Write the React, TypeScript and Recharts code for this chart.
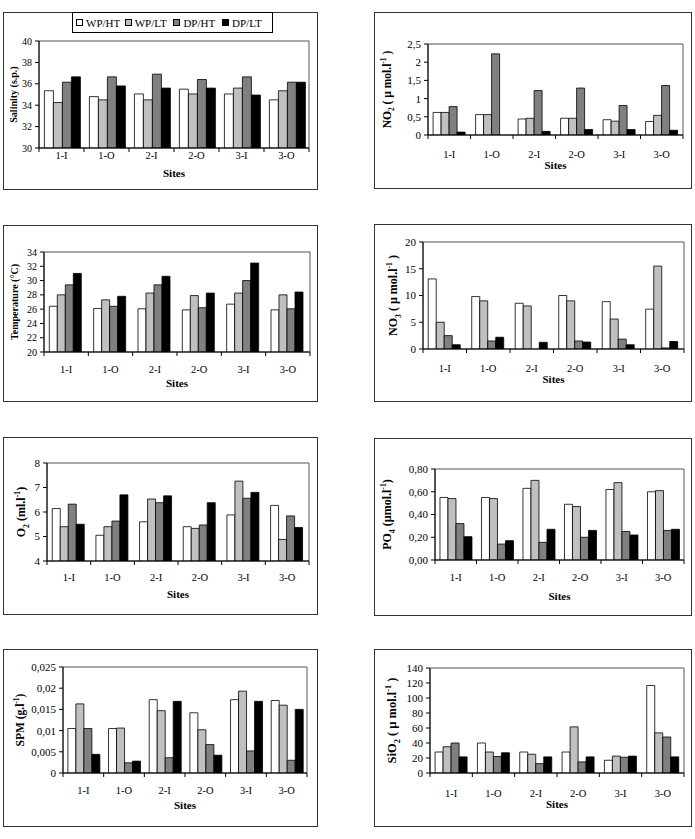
import React from "react";
import { BarChart, Bar, XAxis, YAxis, ReferenceArea } from "recharts";

const SERIF = "'Liberation Serif', 'Times New Roman', serif";

const sites = ["1-I", "1-O", "2-I", "2-O", "3-I", "3-O"];
const seriesNames = ["WP/HT", "WP/LT", "DP/HT", "DP/LT"];
const seriesFill = ["#ffffff", "#c0c0c0", "#808080", "#000000"];

// rows: WP/HT, WP/LT, DP/HT, DP/LT ; columns follow `sites`
const salinity = [
  [35.35, 34.8, 35.05, 35.5, 35.05, 34.5],
  [34.25, 34.5, 34.5, 35.05, 35.6, 35.35],
  [36.15, 36.65, 36.9, 36.4, 36.65, 36.15],
  [36.65, 35.8, 35.6, 35.6, 34.95, 36.15],
];
const nitrite = [
  [0.62, 0.56, 0.44, 0.46, 0.42, 0.37],
  [0.62, 0.56, 0.46, 0.46, 0.38, 0.54],
  [0.78, 2.23, 1.22, 1.29, 0.81, 1.36],
  [0.08, 0, 0.1, 0.15, 0.15, 0.13],
];
const temperature = [
  [26.4, 26.1, 26.05, 25.9, 26.7, 25.9],
  [28.0, 27.3, 28.25, 27.9, 28.25, 28.0],
  [29.4, 26.4, 29.4, 26.2, 30.0, 26.05],
  [31.0, 27.8, 30.6, 28.25, 32.45, 28.4],
];
const nitrate = [
  [13.1, 9.8, 8.55, 10.0, 8.85, 7.45],
  [5.0, 9.0, 8.05, 9.0, 5.6, 15.5],
  [2.5, 1.5, 0, 1.5, 1.85, 0.2],
  [0.8, 2.2, 1.25, 1.3, 0.8, 1.4],
];
const oxygen = [
  [6.14, 5.05, 5.6, 5.4, 5.88, 6.27],
  [5.4, 5.4, 6.53, 5.33, 7.26, 4.88],
  [6.32, 5.63, 6.38, 5.47, 6.56, 5.84],
  [5.5, 6.7, 6.66, 6.38, 6.8, 5.37],
];
const phosphate = [
  [0.55, 0.55, 0.63, 0.49, 0.62, 0.6],
  [0.54, 0.54, 0.7, 0.47, 0.68, 0.61],
  [0.32, 0.14, 0.155, 0.2, 0.25, 0.26],
  [0.205, 0.17, 0.27, 0.26, 0.22, 0.27],
];
const spm = [
  [0.0105, 0.0105, 0.0173, 0.0142, 0.0173, 0.0171],
  [0.0163, 0.0106, 0.0147, 0.0102, 0.0193, 0.016],
  [0.0105, 0.0024, 0.0036, 0.0067, 0.0052, 0.003],
  [0.0044, 0.0028, 0.0169, 0.0042, 0.0169, 0.015],
];
const silicate = [
  [28, 40, 28, 28, 17, 116.7],
  [35, 28, 25, 61.5, 22.5, 53.5],
  [40, 22, 12.5, 14.8, 21, 48],
  [21.5, 27, 21.5, 21.5, 22.5, 21.5],
];

const salinityTicks = [30, 32, 34, 36, 38, 40];
const nitriteTicks = [0, 0.5, 1, 1.5, 2, 2.5];
const temperatureTicks = [20, 22, 24, 26, 28, 30, 32, 34];
const nitrateTicks = [0, 5, 10, 15, 20];
const oxygenTicks = [4, 5, 6, 7, 8];
const phosphateTicks = [0, 0.2, 0.4, 0.6, 0.8];
const spmTicks = [0, 0.005, 0.01, 0.015, 0.02, 0.025];
const silicateTicks = [0, 20, 40, 60, 80, 100, 120, 140];

type Seg = [string, "" | "sub" | "sup"];

interface PanelSpec {
  id: string;
  values: number[][];
  ticks: number[];
  fmt: (v: number) => string;
  title: Seg[];
  frame: [number, number, number, number]; // x, y, w, h
  plot: [number, number, number, number]; // left, top, right, bottom
  titleX: number;
  titleSize: number;
  yTickSize: number;
  tickDy: number;
  sitesDy: number;
}

const comma = (v: number) => String(v).replace(".", ",");
const plain = (v: number) => String(v);

const panels: PanelSpec[] = [
  {
    id: "sal", values: salinity, ticks: salinityTicks, fmt: plain,
    title: [["Salinity (s.p.)", ""]],
    frame: [3, 12, 315, 178], plot: [39, 41, 309, 148],
    titleX: 13, titleSize: 10, yTickSize: 10, tickDy: 7, sitesDy: 25,
  },
  {
    id: "no2", values: nitrite, ticks: nitriteTicks, fmt: comma,
    title: [["NO", ""], ["2", "sub"], [" ( µ mol.l", ""], ["-1", "sup"], [" )", ""]],
    frame: [374, 12, 318, 177], plot: [428, 44, 683, 135],
    titleX: 387, titleSize: 11.5, yTickSize: 11, tickDy: 19, sitesDy: 30,
  },
  {
    id: "temp", values: temperature, ticks: temperatureTicks, fmt: plain,
    title: [["Temperature (°C)", ""]],
    frame: [3, 225, 315, 177], plot: [44, 252, 310, 352],
    titleX: 14, titleSize: 10, yTickSize: 10, tickDy: 17, sitesDy: 31,
  },
  {
    id: "no3", values: nitrate, ticks: nitrateTicks, fmt: plain,
    title: [["NO", ""], ["3", "sub"], [" ( µ mol.l", ""], ["-1", "sup"], [" )", ""]],
    frame: [374, 224, 318, 178], plot: [423, 242, 684, 349],
    titleX: 393, titleSize: 12, yTickSize: 11, tickDy: 19, sitesDy: 30,
  },
  {
    id: "o2", values: oxygen, ticks: oxygenTicks, fmt: plain,
    title: [["O", ""], ["2", "sub"], [" (ml.l", ""], ["-1", "sup"], [")", ""]],
    frame: [3, 437, 315, 178], plot: [47, 463, 309, 561],
    titleX: 21, titleSize: 12, yTickSize: 11, tickDy: 16, sitesDy: 33,
  },
  {
    id: "po4", values: phosphate, ticks: phosphateTicks, fmt: (v) => v.toFixed(2).replace(".", ","),
    title: [["PO", ""], ["4", "sub"], [" (µmol.l", ""], ["-1", "sup"], [")", ""]],
    frame: [374, 438, 318, 178], plot: [435, 469, 684, 560],
    titleX: 387, titleSize: 12, yTickSize: 11, tickDy: 17, sitesDy: 36,
  },
  {
    id: "spm", values: spm, ticks: spmTicks, fmt: comma,
    title: [["SPM (g.l", ""], ["-1", "sup"], [")", ""]],
    frame: [3, 649, 315, 178], plot: [63, 667, 307, 773],
    titleX: 20, titleSize: 11.5, yTickSize: 11, tickDy: 17, sitesDy: 32,
  },
  {
    id: "sio2", values: silicate, ticks: silicateTicks, fmt: plain,
    title: [["SiO", ""], ["2", "sub"], [" ( µ mol.l", ""], ["-1", "sup"], [" )", ""]],
    frame: [374, 649, 318, 178], plot: [430, 668, 684, 773],
    titleX: 392, titleSize: 12.5, yTickSize: 11, tickDy: 20, sitesDy: 31,
  },
];

const X_AXIS_H = 20;

function AxisTitle({ spec }: { spec: PanelSpec }) {
  const size = spec.titleSize;
  const cx = spec.titleX - spec.frame[0];
  const cy = (spec.plot[1] + spec.plot[3]) / 2 - spec.frame[1];
  let shift = 0;
  const parts = spec.title.map(([t, kind], i) => {
    const target = kind === "sub" ? size * 0.3 : kind === "sup" ? -size * 0.4 : 0;
    const dy = target - shift;
    shift = target;
    return (
      <tspan key={i} dy={dy} fontSize={kind ? size * 0.65 : size}>
        {t}
      </tspan>
    );
  });
  return (
    <text
      x={cx}
      y={cy + size * 0.35}
      transform={`rotate(-90 ${cx} ${cy})`}
      textAnchor="middle"
      fontWeight="bold"
      fontFamily={SERIF}
      fill="#000"
    >
      {parts}
    </text>
  );
}

function SitesTitle({ spec }: { spec: PanelSpec }) {
  const cx = (spec.plot[0] + spec.plot[2]) / 2 - spec.frame[0];
  const y = spec.plot[3] - spec.frame[1] + spec.sitesDy;
  return (
    <text x={cx} y={y} dy="0.35em" textAnchor="middle" fontWeight="bold" fontSize={11} fontFamily={SERIF} fill="#000">
      Sites
    </text>
  );
}

// category ticks sit between the groups, labels in the middle
const siteTick = (spec: PanelSpec) => (props: any) => {
  const { x, payload, index } = props;
  const axisY = spec.plot[3] - spec.frame[1];
  const half = (spec.plot[2] - spec.plot[0]) / sites.length / 2;
  return (
    <g>
      <line x1={x - half} x2={x - half} y1={axisY} y2={axisY + 4} stroke="#000" />
      {index === sites.length - 1 && (
        <line x1={x + half} x2={x + half} y1={axisY} y2={axisY + 4} stroke="#000" />
      )}
      <text x={x} y={axisY + spec.tickDy} dy="0.35em" textAnchor="middle" fontSize={10.5} fontFamily={SERIF} fill="#000">
        {payload.value}
      </text>
    </g>
  );
};

function Panel({ spec }: { spec: PanelSpec }) {
  const [fx, fy, fw, fh] = spec.frame;
  const [pl, pt, pr, pb] = spec.plot;
  const rows = sites.map((site, i) => ({
    site,
    s0: spec.values[0][i],
    s1: spec.values[1][i],
    s2: spec.values[2][i],
    s3: spec.values[3][i],
  }));
  const domain: [number, number] = [spec.ticks[0], spec.ticks[spec.ticks.length - 1]];
  return (
    <div style={{ position: "absolute", left: fx, top: fy, width: fw, height: fh }}>
      <BarChart
        width={fw}
        height={fh}
        data={rows}
        barGap={0}
        barCategoryGap="12%"
        margin={{ top: pt - fy, right: fx + fw - pr, bottom: fy + fh - pb - X_AXIS_H, left: 0 }}
      >
        <ReferenceArea y1={domain[0]} y2={domain[1]} fill="none" stroke="#555" strokeWidth={1} />
        <XAxis
          dataKey="site"
          height={X_AXIS_H}
          tickLine={false}
          axisLine={{ stroke: "#000" }}
          tick={siteTick(spec)}
          interval={0}
          label={<SitesTitle spec={spec} />}
        />
        <YAxis
          type="number"
          domain={domain}
          ticks={spec.ticks}
          interval={0}
          allowDataOverflow
          width={pl - fx}
          tickSize={4}
          tickMargin={3}
          tickFormatter={spec.fmt}
          axisLine={{ stroke: "#000" }}
          tickLine={{ stroke: "#000" }}
          tick={{ fontSize: spec.yTickSize, fill: "#000", fontFamily: SERIF }}
          label={<AxisTitle spec={spec} />}
        />
        {seriesNames.map((name, si) => (
          <Bar
            key={name}
            name={name}
            dataKey={`s${si}`}
            fill={seriesFill[si]}
            stroke="#000"
            strokeWidth={0.8}
            isAnimationActive={false}
          />
        ))}
      </BarChart>
      <div
        style={{
          position: "absolute",
          left: 0,
          top: 0,
          width: fw,
          height: fh,
          boxSizing: "border-box",
          border: "1px solid #333",
          pointerEvents: "none",
        }}
      />
    </div>
  );
}

function SeriesLegend() {
  return (
    <div
      style={{
        position: "absolute",
        left: 72,
        top: 12,
        width: 201,
        height: 21,
        boxSizing: "border-box",
        border: "1px solid #000",
        background: "#fff",
        display: "flex",
        alignItems: "center",
        paddingLeft: 3,
        fontFamily: SERIF,
        fontSize: 11,
        color: "#000",
      }}
    >
      {seriesNames.map((name, i) => (
        <div key={name} style={{ display: "flex", alignItems: "center", width: 48.7, whiteSpace: "nowrap" }}>
          <span
            style={{
              display: "inline-block",
              width: 7,
              height: 7,
              boxSizing: "border-box",
              border: "1px solid #000",
              background: seriesFill[i],
              marginRight: 3,
            }}
          />
          <span>{name}</span>
        </div>
      ))}
    </div>
  );
}

export default function App() {
  return (
    <div
      style={{
        position: "absolute",
        left: 0,
        top: 0,
        width: 695,
        height: 839,
        background: "#fff",
        fontFamily: SERIF,
      }}
    >
      {panels.map((p) => (
        <Panel key={p.id} spec={p} />
      ))}
      <SeriesLegend />
    </div>
  );
}
